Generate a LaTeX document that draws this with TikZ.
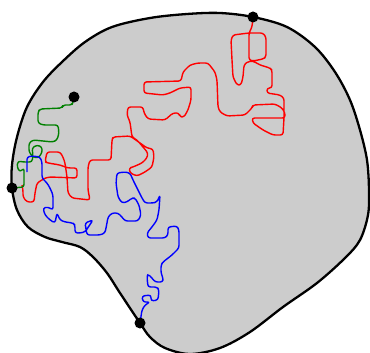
\documentclass[tikz,border=0pt]{standalone}
\usepackage{tikz}
\usetikzlibrary{positioning}
\definecolor{Blob}{HTML}{CCCCCC}
\definecolor{WalkR}{HTML}{FF0000}
\definecolor{WalkG}{HTML}{008000}
\definecolor{WalkB}{HTML}{0000FF}
\tikzset{
  dot/.style={circle, fill=black, inner sep=0pt, minimum size=11pt},
  walk/.style={line width=1.4pt, rounded corners=2.5pt, line join=round}
}

\begin{document}
\begin{tikzpicture}[
  x=1pt, y=-1pt,
  region/.style={draw=black, fill=Blob, line width=2.3pt},
  rw/.style={walk, draw=WalkR},
  gw/.style={walk, draw=WalkG},
  bw/.style={walk, draw=WalkB}
]
  \useasboundingbox (0,0) rectangle (370,353);

  % the region
  \draw[region] plot[smooth cycle, tension=0.55] coordinates {
    (253,17) (287,27) (315,47) (335,72) (350,100) (360,130) (367,160)
    (369,190) (368,215) (360,240) (345,258) (317,283) (283,307) (250,332)
    (220,348) (190,354) (165,348) (150,337) (140,323) (120,293) (107,273)
    (93,257) (80,247) (62,242) (45,237) (28,227) (17,210) (12,188)
    (12,165) (17,137) (27,107) (43,82) (62,62) (85,42) (112,27)
    (150,18) (187,14) (220,13)};

  \coordinate (top) at (253,17);
  \coordinate (lft) at (12,188);
  \coordinate (bot) at (140,323);
  \coordinate (mid) at (74,97);

  % red walk
  \draw[rw] (top) -- (252,27) -- (249,33) -- (249,60) -- (253,61) -- (263,59)
    -- (266,57) -- (266,37) -- (263,33) -- (249,33) -- (233,35) -- (231,40)
    -- (232,60) -- (233,77) -- (237,85) -- (241,85) -- (243,77) -- (244,65)
    -- (247,62) -- (253,61) -- (260,65) -- (270,68) -- (272,70) -- (272,88)
    -- (267,88) -- (267,93) -- (280,95) -- (284,98) -- (284,118) -- (283,135)
    -- (273,135) -- (263,130) -- (253,123) -- (252,118) -- (285,118)
    -- (285,113) -- (282,108) -- (275,104) -- (253,105) -- (252,108)
    -- (245,115) -- (227,116) -- (220,112) -- (218,107) -- (217,80)
    -- (215,72) -- (208,63) -- (198,63) -- (190,65) -- (183,72) -- (181,81)
    -- (144,82) -- (144,93) -- (163,95) -- (170,93) -- (180,88) -- (191,87)
    -- (191,100) -- (188,110) -- (184,117) -- (180,117) -- (179,113)
    -- (173,113) -- (165,120) -- (148,119) -- (144,113) -- (143,107)
    -- (128,107) -- (127,115) -- (130,122) -- (132,137) -- (137,140)
    -- (143,147) -- (148,153) -- (147,158) -- (142,163) -- (133,167)
    -- (129,168) -- (130,173) -- (137,176) -- (145,172) -- (152,167)
    -- (154,157) -- (153,149) -- (147,148) -- (140,143) -- (133,138)
    -- (130,136) -- (113,137) -- (112,140) -- (111,160) -- (102,160)
    -- (90,160) -- (88,167) -- (88,190) -- (90,200) -- (72,198) -- (68,193)
    -- (67,177) -- (65,163) -- (63,157) -- (60,152) -- (47,152) -- (45,162)
    -- (48,163) -- (60,165) -- (68,168) -- (77,168) -- (77,178) -- (50,177)
    -- (45,178) -- (42,180) -- (37,183) -- (35,193) -- (34,202) -- (27,202)
    -- (23,197) -- (23,190) -- (22,185);

  % green walk
  \draw[gw] (mid) -- (73,102) -- (72,105) -- (63,105) -- (62,108) -- (40,109)
    -- (38,112) -- (38,123) -- (43,125) -- (58,125) -- (59,133) -- (57,140)
    -- (53,142) -- (33,140) -- (29,143) -- (29,152) -- (33,157) -- (38,158)
    -- (42,153) -- (42,147) -- (37,145) -- (32,148) -- (33,155) -- (32,162)
    -- (23,162) -- (18,161) -- (17,167) -- (20,172) -- (24,168) -- (24,175)
    -- (24,187) -- (lft);

  % blue walk
  \draw[bw] (bot) -- (142,310) -- (145,305) -- (150,302) -- (143,302)
    -- (142,296) -- (151,295) -- (151,301) -- (158,300) -- (159,290)
    -- (157,287) -- (148,287) -- (147,277) -- (148,274) -- (152,278)
    -- (155,282) -- (163,282) -- (163,278) -- (161,273) -- (161,265)
    -- (163,262) -- (172,255) -- (179,248) -- (179,230) -- (177,226)
    -- (168,227) -- (168,235) -- (165,238) -- (148,238) -- (147,233)
    -- (152,227) -- (157,220) -- (159,210) -- (160,195) -- (157,202)
    -- (153,203) -- (145,203) -- (142,198) -- (138,190) -- (133,180)
    -- (130,173) -- (125,172) -- (117,173) -- (116,183) -- (118,197)
    -- (122,203) -- (127,202) -- (132,198) -- (135,198) -- (139,205)
    -- (141,215) -- (138,221) -- (125,221) -- (122,217) -- (118,213)
    -- (112,213) -- (108,217) -- (107,223) -- (105,233) -- (100,235)
    -- (87,235) -- (85,223) -- (93,220) -- (85,232) -- (80,233) -- (75,233)
    -- (75,225) -- (73,223) -- (65,222) -- (60,220) -- (57,213) -- (55,223)
    -- (50,220) -- (45,215) -- (43,208) -- (48,207) -- (53,210) -- (53,205)
    -- (53,195) -- (50,188) -- (47,183) -- (42,178) -- (42,162) -- (40,157)
    -- (32,156) -- (27,157) -- (27,172);

  % marked points
  \node[dot] (T) at (top) {};
  \node[dot] (L) at (lft) {};
  \node[dot] (B) at (bot) {};
  \node[dot] (M) at (mid) {};
\end{tikzpicture}
\end{document}
